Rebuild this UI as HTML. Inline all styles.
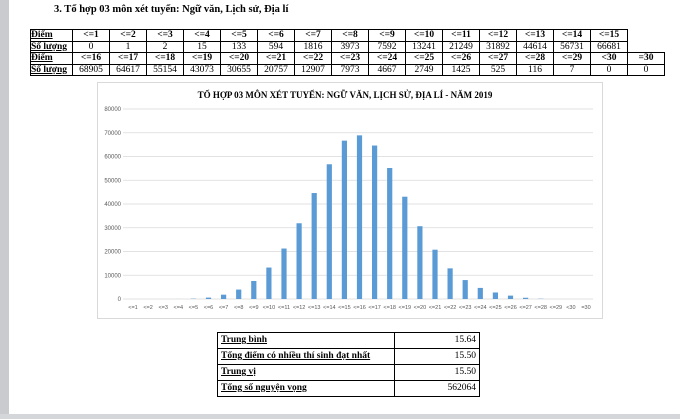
<!DOCTYPE html>
<html><head><meta charset="utf-8"><style>
body{margin:0;width:680px;height:419px;background:#fff;position:relative;overflow:hidden;font-family:"Liberation Serif",serif;}
.ls{position:absolute;left:0;top:0;width:9px;height:419px;background:#c9cbcf;}
.bb{position:absolute;left:0;top:414px;width:680px;height:5px;background:#d4d6d9;}
.h{position:absolute;left:54px;top:4px;font-weight:bold;font-size:10.5px;}
table{border-collapse:collapse;position:absolute;}
td{border:1px solid #000;font-size:9.5px;padding:0;height:10.5px;line-height:10.5px;text-align:center;}
#t1{left:30px;top:29px;}
#t1 td{width:36px;}
#t1 td.f{width:41px;text-align:left;font-weight:bold;text-decoration:underline;}
#t1 tr.b td{font-weight:bold;}
#t2{left:217px;top:332px;width:263px;}
#t2 td{height:15px;line-height:15px;font-size:9.5px;padding:0 3px;}
#t2 td.l{text-align:left;font-weight:bold;text-decoration:underline;width:170px;}
#t2 td.r{text-align:right;}
</style></head><body>
<div class="ls"></div><div class="bb"></div>
<div class="h">3. Tổ hợp 03 môn xét tuyển: Ngữ văn, Lịch sử, Địa lí</div>
<table id="t1">
<tr class="b"><td class="f">Điểm</td><td>&lt;=1</td><td>&lt;=2</td><td>&lt;=3</td><td>&lt;=4</td><td>&lt;=5</td><td>&lt;=6</td><td>&lt;=7</td><td>&lt;=8</td><td>&lt;=9</td><td>&lt;=10</td><td>&lt;=11</td><td>&lt;=12</td><td>&lt;=13</td><td>&lt;=14</td><td>&lt;=15</td><td style="border:none"></td></tr>
<tr><td class="f">Số lượng</td><td>0</td><td>1</td><td>2</td><td>15</td><td>133</td><td>594</td><td>1816</td><td>3973</td><td>7592</td><td>13241</td><td>21249</td><td>31892</td><td>44614</td><td>56731</td><td>66681</td><td style="border-top:none;border-right:none"></td></tr>
<tr class="b"><td class="f">Điểm</td><td>&lt;=16</td><td>&lt;=17</td><td>&lt;=18</td><td>&lt;=19</td><td>&lt;=20</td><td>&lt;=21</td><td>&lt;=22</td><td>&lt;=23</td><td>&lt;=24</td><td>&lt;=25</td><td>&lt;=26</td><td>&lt;=27</td><td>&lt;=28</td><td>&lt;=29</td><td>&lt;30</td><td>=30</td></tr>
<tr><td class="f">Số lượng</td><td>68905</td><td>64617</td><td>55154</td><td>43073</td><td>30655</td><td>20757</td><td>12907</td><td>7973</td><td>4667</td><td>2749</td><td>1425</td><td>525</td><td>116</td><td>7</td><td>0</td><td>0</td></tr>
</table>
<svg id="ch" style="position:absolute;left:0;top:0" width="680" height="419"></svg>
<table id="t2">
<tr><td class="l">Trung bình</td><td class="r">15.64</td></tr>
<tr><td class="l">Tổng điểm có nhiều thí sinh đạt nhất</td><td class="r">15.50</td></tr>
<tr><td class="l">Trung vị</td><td class="r">15.50</td></tr>
<tr><td class="l">Tổng số nguyện vọng</td><td class="r">562064</td></tr>
</table>
<script>
var v=[0,1,2,15,133,594,1816,3973,7592,13241,21249,31892,44614,56731,66681,68905,64617,55154,43073,30655,20757,12907,7973,4667,2749,1425,525,116,7,0,0];
var s='<rect x="97.5" y="82.5" width="505" height="236" fill="#fff" stroke="#d9d9d9"/>';
s+='<text x="345" y="98" text-anchor="middle" font-family="Liberation Serif" font-weight="bold" font-size="9">TỔ HỢP 03 MÔN XÉT TUYỂN:  NGỮ VĂN, LỊCH SỬ, ĐỊA LÍ - NĂM 2019</text>';
for(var i=0;i<=8;i++){var y=299-i*23.75;s+='<line x1="123" x2="593" y1="'+y+'" y2="'+y+'" stroke="#d9d9d9" stroke-width="0.8"/>';
s+='<text x="121" y="'+(y+2)+'" text-anchor="end" font-family="Liberation Sans" font-size="6" fill="#595959">'+(i*10000)+'</text>';}
for(var k=0;k<31;k++){var cx=133+k*15.1,h=v[k]*190/80000;
if(h>0)s+='<rect x="'+(cx-2.6)+'" y="'+(299-h)+'" width="5.2" height="'+h+'" fill="#5b9bd5"/>';
var lab=k<29?'&lt;='+(k+1):(k==29?'&lt;30':'=30');
s+='<text x="'+cx+'" y="309" text-anchor="middle" font-family="Liberation Sans" font-size="5.5" fill="#595959">'+lab+'</text>';}
document.getElementById('ch').innerHTML=s;
</script>
</body></html>
